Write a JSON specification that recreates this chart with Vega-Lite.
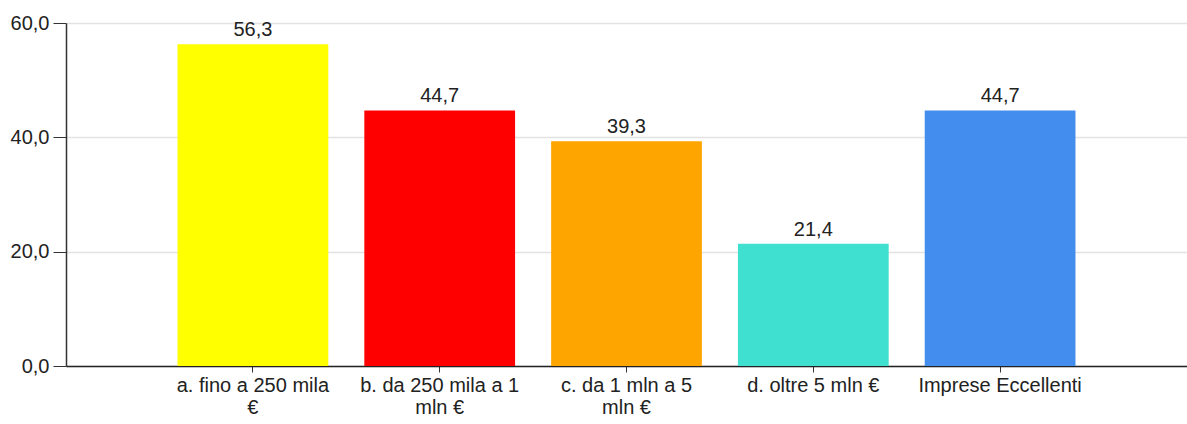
{
  "$schema": "https://vega.github.io/schema/vega-lite/v6.json",
  "width": 1121,
  "height": 343,
  "autosize": {"type": "none"},
  "padding": {"left": 66, "top": 23, "right": 0, "bottom": 58},
  "background": "white",
  "config": {"view": {"stroke": null}, "font": "Liberation Sans",
    "locale": {"number": {"decimal": ",", "thousands": ".", "grouping": [3], "currency": ["", " €"]}}},
  "data": {"values": [
    {"cat": "a. fino a 250 mila €", "value": 56.3, "color": "#FFFF00"},
    {"cat": "b. da 250 mila a 1 mln €", "value": 44.7, "color": "#FF0000"},
    {"cat": "c. da 1 mln a 5 mln €", "value": 39.3, "color": "#FFA500"},
    {"cat": "d. oltre 5 mln €", "value": 21.4, "color": "#40E0D0"},
    {"cat": "Imprese Eccellenti", "value": 44.7, "color": "#438DEF"}
  ]},
  "encoding": {
    "x": {"field": "cat", "type": "nominal", "sort": null,
      "scale": {"paddingInner": 0.193, "paddingOuter": 0.597},
      "axis": {"title": null, "labelAngle": 0, "labelFontSize": 20, "labelColor": "#222", "labelLineHeight": 22,
        "labelPadding": 3, "tickSize": 6, "tickColor": "#333", "domainColor": "#222", "domainWidth": 1.5,
        "labelBaseline": "top",
        "labelExpr": "datum.label == 'a. fino a 250 mila €' ? ['a. fino a 250 mila', '€'] : datum.label == 'b. da 250 mila a 1 mln €' ? ['b. da 250 mila a 1', 'mln €'] : datum.label == 'c. da 1 mln a 5 mln €' ? ['c. da 1 mln a 5', 'mln €'] : datum.label"}},
    "y": {"field": "value", "type": "quantitative",
      "scale": {"domain": [0, 60], "nice": false},
      "axis": {"title": null, "values": [0, 20, 40, 60], "labelFontSize": 20, "labelColor": "#222", "labelPadding": 4,
        "tickSize": 13, "tickColor": "#333", "domainColor": "#333", "domainWidth": 1.5,
        "gridColor": "#e2e2e2", "gridWidth": 1.5, "format": ".1f"}}
  },
  "layer": [
    {"mark": {"type": "bar"}, "encoding": {"color": {"field": "color", "type": "nominal", "scale": null}}},
    {"mark": {"type": "text", "baseline": "alphabetic", "dy": -8, "fontSize": 20, "color": "#222"},
      "encoding": {"text": {"field": "value", "type": "quantitative", "format": ".1f"}}}
  ]
}
